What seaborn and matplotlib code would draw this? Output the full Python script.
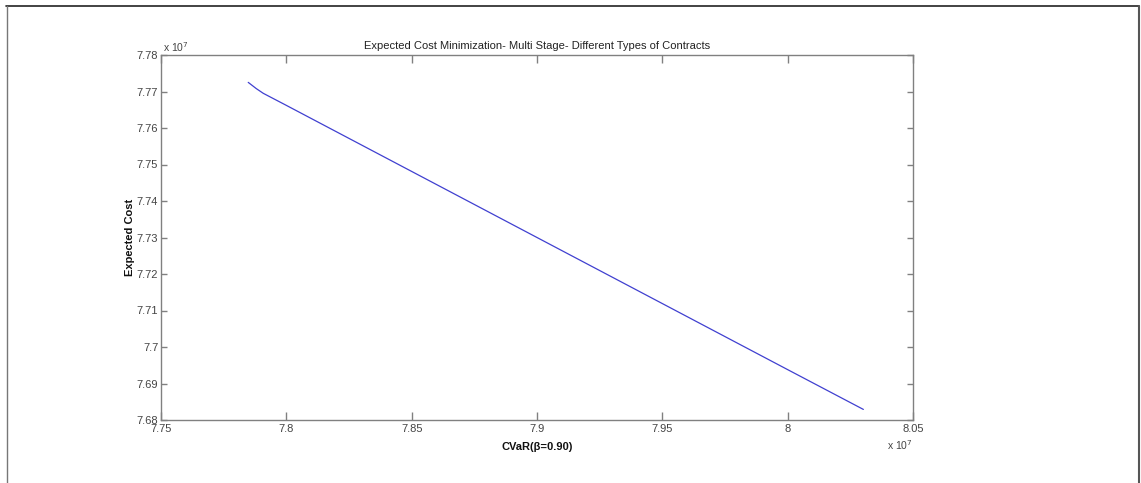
import matplotlib
matplotlib.use("Agg")
import matplotlib.pyplot as plt
from matplotlib.lines import Line2D
from matplotlib.ticker import FuncFormatter, MultipleLocator
import seaborn as sns
import numpy as np

# Data, values in absolute units
cvar = [7.7848e7, 7.7880e7, 7.7908e7, 7.8000e7, 7.8500e7, 7.9000e7, 7.9500e7, 8.0000e7, 8.0302e7]
expected_cost = [7.7725e7, 7.7708e7, 7.7695e7, 7.7662e7, 7.7481e7, 7.7300e7, 7.7119e7, 7.6938e7, 7.6829e7]

title = "Expected Cost Minimization- Multi Stage- Different Types of Contracts"
xlabel = "CVaR(β=0.90)"
ylabel = "Expected Cost"

sns.set_style("white")
plt.rcParams['font.family'] = ['Liberation Sans', 'DejaVu Sans']

W, H = 1141, 483
fig = plt.figure(figsize=(W / 100, H / 100), dpi=100)
ax = fig.add_axes([161 / W, 1 - 420 / H, (913 - 161) / W, (420 - 55) / H])

sns.lineplot(x=cvar, y=expected_cost, ax=ax, color="#4040d0", linewidth=0.9,
             sort=False, estimator=None)

ax.set_xlim(7.75e7, 8.05e7)
ax.set_ylim(7.68e7, 7.78e7)
ax.xaxis.set_major_locator(MultipleLocator(0.05e7))
ax.yaxis.set_major_locator(MultipleLocator(0.01e7))
fmt = FuncFormatter(lambda v, p: "%g" % round(v / 1e7, 4))
ax.xaxis.set_major_formatter(fmt)
ax.yaxis.set_major_formatter(fmt)

tick_color = "#444444"
spine_color = "#808080"
for s in ax.spines.values():
    s.set_color(spine_color)
    s.set_linewidth(1.0)
ax.tick_params(axis="x", direction="in", length=5.5, width=1.0, color=spine_color,
               labelsize=8, labelcolor=tick_color, top=True, bottom=True, pad=3)
ax.tick_params(axis="y", direction="in", length=4, width=1.0, color=spine_color,
               labelsize=8, labelcolor=tick_color, left=True, right=True, pad=2)

ax.set_title(title, fontsize=8, color="#222222", pad=4)
ax.set_xlabel(xlabel, fontsize=8, fontweight="bold", color="#111111", labelpad=6)
ax.set_ylabel(ylabel, fontsize=8, fontweight="bold", color="#111111", labelpad=1)

# multiplier texts
fig.text(163 / W, 1 - 47 / H, r"x 10$^7$", fontsize=7.5, color=tick_color,
         ha="left", va="center")
fig.text(913 / W, 1 - 445 / H, r"x 10$^7$", fontsize=7.5, color=tick_color,
         ha="right", va="center")

# outer frame lines
fig.add_artist(Line2D([6 / W, 1139 / W], [1 - 5.5 / H, 1 - 5.5 / H], color="#222222", linewidth=1.2))
fig.add_artist(Line2D([6.5 / W, 6.5 / W], [0, 1 - 5.5 / H], color="#777777", linewidth=1.0))
fig.add_artist(Line2D([1139 / W, 1139 / W], [0, 1 - 5.5 / H], color="#555555", linewidth=1.5))

fig.savefig("out.png", dpi=100, facecolor="white")
